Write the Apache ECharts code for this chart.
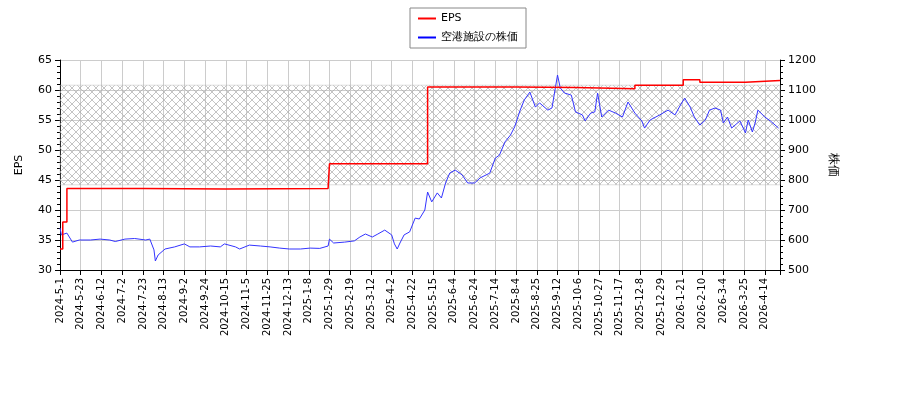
<!DOCTYPE html>
<html>
<head>
<meta charset="utf-8">
<script src="https://cdn.jsdelivr.net/npm/echarts@6/dist/echarts.min.js"></script>
<style>html,body{margin:0;padding:0;background:#fff}#c{width:900px;height:400px}</style>
</head>
<body>
<div id="c"></div>
<script>
// x is trading-day index, one tick label every 15 trading days
var tickLabels = ['2024-5-1','2024-5-23','2024-6-12','2024-7-2','2024-7-23','2024-8-13','2024-9-2','2024-9-24',
  '2024-10-15','2024-11-5','2024-11-25','2024-12-13','2025-1-8','2025-1-29','2025-2-19','2025-3-12','2025-4-2',
  '2025-4-22','2025-5-15','2025-6-4','2025-6-24','2025-7-14','2025-8-4','2025-8-25','2025-9-12','2025-10-6',
  '2025-10-27','2025-11-17','2025-12-8','2025-12-29','2026-1-21','2026-2-10','2026-3-4','2026-3-25','2026-4-14'];

var epsData = [[0,33.5],[2,38],[5,43.6],[60,43.5],[120,43.6],[194,43.5],[195,47.7],[264,47.7],[266,60.5],
  [330,60.4],[373,60.2],[416,60.8],[451,61.7],[463,61.3],[496,61.6],[521,61.6]];

var priceData = [[0,640],[1,617],[5,623],[9,593],[14,600],[22,600],[29,603],[36,600],[40,595],[47,603],[54,605],
  [62,600],[65,603],[68,567],[69,530],[71,550],[76,570],[83,577],[90,587],[94,577],[101,577],[109,580],[116,577],
  [119,587],[127,577],[130,570],[137,583],[145,580],[152,577],[159,573],[166,570],[174,570],[181,573],[188,572],
  [194,580],[195,603],[198,590],[206,593],[213,597],[217,610],[221,620],[226,610],[230,620],[235,633],[240,617],
  [242,587],[244,570],[246,590],[249,617],[253,627],[257,673],[260,670],[264,700],[266,760],[269,727],[273,757],
  [276,740],[279,790],[282,823],[286,833],[291,817],[295,790],[300,790],[304,807],[311,823],[315,873],[318,883],
  [322,927],[326,950],[329,977],[333,1033],[336,1067],[340,1093],[344,1043],[347,1057],[353,1033],[356,1040],
  [360,1150],[362,1107],[365,1090],[370,1083],[373,1027],[378,1017],[380,997],[384,1023],[387,1027],[389,1090],
  [392,1010],[397,1033],[402,1023],[407,1010],[411,1060],[416,1023],[421,997],[423,973],[427,1000],[434,1017],
  [440,1033],[445,1017],[449,1050],[452,1073],[456,1043],[459,1010],[463,983],[467,1000],[470,1033],[474,1040],
  [478,1033],[480,990],[483,1010],[486,973],[492,997],[496,957],[498,1000],[501,960],[503,990],[505,1033],
  [510,1010],[514,997],[520,973]];

var bandLow = 44.2, bandHigh = 60.8;

var pat = document.createElement('canvas');
pat.width = 8; pat.height = 8;
var g = pat.getContext('2d');
g.strokeStyle = '#aaa'; g.lineWidth = 0.7;
g.beginPath(); g.moveTo(0,0); g.lineTo(8,8); g.moveTo(8,0); g.lineTo(0,8); g.stroke();

var font = 'DejaVu Sans';
var myChart = echarts.init(document.getElementById('c'));
myChart.setOption({
  animation: false,
  textStyle: {fontFamily: font},
  legend: {
    top: 8, left: 410, orient: 'vertical',
    borderColor: '#888', borderWidth: 1, borderRadius: 0, padding: [5, 8],
    itemWidth: 18, itemHeight: 2, itemGap: 8,
    textStyle: {fontSize: 11, color: '#000'},
    data: [{name: 'EPS', icon: 'rect'}, {name: '空港施設の株価', icon: 'rect'}]
  },
  grid: {left: 60, right: 120, top: 60, bottom: 130},
  xAxis: {
    type: 'value', min: 0, max: 521, interval: 15,
    axisLine: {lineStyle: {color: '#000'}},
    axisTick: {lineStyle: {color: '#000'}},
    axisLabel: {rotate: 90, fontSize: 10, color: '#000',
      formatter: function (v) { return tickLabels[Math.round(v / 15)] || ''; }},
    splitLine: {show: true, lineStyle: {color: '#ccc'}}
  },
  yAxis: [{
    type: 'value', min: 30, max: 65, interval: 5, name: 'EPS',
    nameLocation: 'middle', nameGap: 35, nameRotate: 90, nameTextStyle: {fontSize: 11, color: '#000'},
    axisLine: {show: true, lineStyle: {color: '#000'}},
    axisTick: {show: true, lineStyle: {color: '#000'}},
    minorTick: {show: true, splitNumber: 5, lineStyle: {color: '#000'}},
    axisLabel: {fontSize: 11, color: '#000'},
    splitLine: {show: true, lineStyle: {color: '#ccc'}}
  }, {
    type: 'value', min: 500, max: 1200, interval: 100, name: '株価',
    nameLocation: 'middle', nameGap: 45, nameRotate: -90, nameTextStyle: {fontSize: 12, color: '#000'},
    axisLine: {show: true, lineStyle: {color: '#000'}},
    axisTick: {show: true, lineStyle: {color: '#000'}},
    minorTick: {show: true, splitNumber: 5, lineStyle: {color: '#000'}},
    axisLabel: {fontSize: 11, color: '#000', formatter: function (v) { return String(v); }},
    splitLine: {show: false}
  }],
  series: [{
    name: 'EPS', type: 'line', step: 'end', yAxisIndex: 0, symbol: 'none', z: 3,
    itemStyle: {color: '#f00'}, lineStyle: {color: '#f00', width: 1.5},
    data: epsData,
    markArea: {
      silent: true,
      itemStyle: {color: {image: pat, repeat: 'repeat'}, borderColor: '#bbb', borderWidth: 0.5},
      data: [[{yAxis: bandLow, x: 60}, {yAxis: bandHigh, x: 780}]]
    }
  }, {
    name: '空港施設の株価', type: 'line', yAxisIndex: 1, symbol: 'none', z: 2,
    itemStyle: {color: '#00f'}, lineStyle: {color: '#33f', width: 1},
    data: priceData
  }]
});
</script>
</body>
</html>
